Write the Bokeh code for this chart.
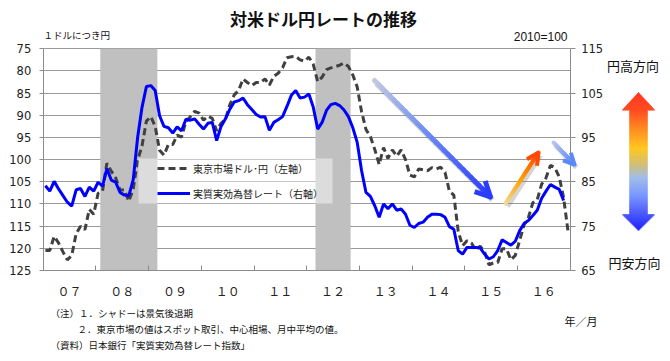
import numpy as np
from bokeh.plotting import figure
from bokeh.models import (Range1d, LinearAxis, FixedTicker, Legend, LegendItem,
                          Arrow, OpenHead)
from bokeh.embed import file_html
from bokeh.resources import INLINE
from bokeh.core.properties import value

# ---------------- data ----------------
year_labels = ["０７", "０８", "０９", "１０", "１１", "１２", "１３", "１４", "１５", "１６"]

# 東京市場ドル・円 (monthly average, Jan 2007 - Dec 2016), left axis
usd_jpy = [
    120.5, 120.5, 117.3, 118.8, 120.8, 122.6, 121.6, 116.7, 115.0, 115.8, 111.2, 112.3,
    107.6, 107.1, 100.8, 102.6, 104.1, 106.9, 106.8, 109.4, 106.6, 100.1, 96.9, 91.3,
    90.3, 92.5, 97.9, 99.0, 96.6, 96.6, 94.5, 94.9, 91.4, 90.3, 89.1, 89.5,
    91.1, 90.2, 90.7, 93.5, 91.8, 90.9, 87.6, 85.4, 84.4, 81.8, 82.6, 83.3,
    82.6, 82.6, 81.8, 83.2, 81.2, 80.5, 79.3, 77.0, 76.8, 76.7, 77.5, 77.8,
    76.9, 78.5, 82.4, 81.4, 79.7, 79.3, 79.0, 78.7, 78.2, 79.0, 80.9, 83.6,
    89.2, 93.2, 94.8, 97.7, 101.1, 97.3, 99.7, 97.8, 99.2, 97.8, 100.0, 103.5,
    103.9, 102.1, 102.3, 102.5, 101.8, 102.1, 101.7, 102.9, 107.1, 108.0, 116.2, 119.4,
    118.3, 118.8, 120.4, 119.5, 120.8, 123.7, 123.3, 123.2, 120.1, 120.1, 122.6, 121.6,
    118.2, 114.7, 113.0, 109.7, 109.0, 105.5, 104.1, 101.3, 101.8, 103.9, 108.6, 116.1,
]

# 実質実効為替レート (2010=100, Jan 2007 - Nov 2016), right axis
reer = [
    84.1, 82.9, 85.1, 83.4, 81.9, 80.4, 79.5, 83.2, 83.5, 81.7, 83.8, 82.9,
    84.9, 84.0, 88.0, 85.4, 84.9, 82.6, 82.0, 81.9, 85.5, 95.0, 101.8, 106.5,
    106.7, 105.6, 99.9, 97.5, 97.2, 96.0, 97.4, 96.5, 99.1, 98.9, 99.2, 98.0,
    96.9, 98.2, 98.4, 94.3, 97.5, 99.2, 101.4, 103.0, 103.3, 103.9, 102.4, 101.3,
    100.2, 99.6, 99.7, 96.6, 98.4, 99.0, 99.7, 102.0, 104.5, 105.6, 103.9, 104.1,
    104.8, 101.8, 96.9, 98.4, 101.1, 102.4, 102.7, 102.2, 101.2, 99.7, 97.2, 93.9,
    87.5, 82.6, 81.7, 79.6, 77.0, 80.0, 78.9, 80.0, 78.6, 78.9, 77.7, 75.2,
    74.7, 75.6, 75.9, 77.0, 77.7, 77.7, 77.6, 77.0, 74.9, 74.3, 69.5, 68.7,
    70.2, 70.2, 70.2, 70.1, 68.7, 67.6, 68.1, 69.5, 71.9, 71.3, 70.7, 71.6,
    74.0, 75.6, 76.3, 77.4, 78.6, 81.3, 82.9, 84.4, 83.8, 83.3, 80.8,
]

# 景気後退期 (month index: start, end)
recessions = [(13, 26), (62, 70)]

left_ticks = [75, 80, 85, 90, 95, 100, 105, 110, 115, 120, 125]
right_ticks = [65, 75, 85, 95, 105, 115]

series_names = ["東京市場ドル･円（左軸）", "実質実効為替レート（右軸）"]
title_text = "対米ドル円レートの推移"
unit_left = "１ドルにつき円"
unit_right = "2010=100"
unit_x = "年／月"
dir_up = "円高方向"
dir_down = "円安方向"
notes = ["（注）１．シャドーは景気後退期",
         "２．東京市場の値はスポット取引、中心相場、月中平均の値。",
         "（資料）日本銀行「実質実効為替レート指数」"]

JP = "Noto Sans CJK JP"
NUM = "DejaVu Sans"

# ---------------- layout geometry (pixels) ----------------
W, H = 670, 361
PL, PR, PT, PB = 42.7, 569.7, 48.3, 270.0      # plot area box
n_months = len(year_labels) * 12
lo, hi = min(left_ticks), max(left_ticks)
rlo, rhi = min(right_ticks), max(right_ticks)
ppm = (PR - PL) / n_months                      # px per month
ppu = (PB - PT) / (hi - lo)                     # px per left-axis unit

x_start = 0 - PL / ppm
x_end = n_months + (W - PR) / ppm
y_bottom = hi + (H - PB) / ppu
y_top = lo - PT / ppu
flip = lo + rhi                                 # right value = flip - left value

p = figure(width=W, height=H, output_backend="svg", toolbar_location=None,
           x_range=Range1d(x_start, x_end), y_range=Range1d(y_bottom, y_top),
           min_border=0, min_border_left=0, min_border_right=0,
           min_border_top=0, min_border_bottom=0)
p.outline_line_color = None
p.background_fill_color = "white"
p.border_fill_color = "white"
p.extra_y_ranges = {"right": Range1d(flip - y_bottom, flip - y_top),
                    "px": Range1d(H, 0)}
p.extra_x_ranges = {"px": Range1d(0, W)}

# grid
p.xgrid.visible = False
p.ygrid.ticker = FixedTicker(ticks=left_ticks)
p.ygrid.grid_line_color = "#9a9a9a"
p.ygrid.grid_line_width = 1
p.ygrid.bounds = (lo, hi)
p.ygrid.cross_bounds = (0, n_months)

# left axis
ya = p.yaxis[0]
ya.ticker = FixedTicker(ticks=left_ticks)
ya.fixed_location = 0
ya.bounds = (lo, hi)
ya.axis_line_color = "#8c8c8c"
ya.major_tick_line_color = "#8c8c8c"
ya.major_tick_out = 4
ya.major_tick_in = 0
ya.minor_tick_line_color = None
ya.major_label_standoff = 8
ya.major_label_text_font = NUM
ya.major_label_text_font_size = "11.5px"
ya.major_label_text_color = "#222222"

# right axis
ra = LinearAxis(y_range_name="right", ticker=FixedTicker(ticks=right_ticks),
                fixed_location=n_months, bounds=(rlo, rhi))
ra.axis_line_color = "#8c8c8c"
ra.major_tick_line_color = "#8c8c8c"
ra.major_tick_out = 5
ra.major_tick_in = 0
ra.minor_tick_line_color = None
ra.major_label_standoff = 6
ra.major_label_text_font = NUM
ra.major_label_text_font_size = "11.5px"
ra.major_label_text_color = "#222222"
p.add_layout(ra, "right")

# bottom axis: year labels at mid-year, ticks at year boundaries
xa = p.xaxis[0]
mid_year = [12 * k + 6 for k in range(len(year_labels))]
year_bounds = [12 * k for k in range(len(year_labels) + 1)]
xa.ticker = FixedTicker(ticks=mid_year, minor_ticks=year_bounds)
xa.fixed_location = hi
xa.bounds = (0, n_months)
xa.major_label_overrides = {m: lab for m, lab in zip(mid_year, year_labels)}
xa.axis_line_color = "#8c8c8c"
xa.major_tick_line_color = None
xa.major_tick_in = 0
xa.major_tick_out = 0
xa.minor_tick_line_color = "#8c8c8c"
xa.minor_tick_in = 5
xa.minor_tick_out = 0
xa.major_label_standoff = 11
xa.major_label_text_font = JP
xa.major_label_text_font_size = "12px"
xa.major_label_text_color = "#222222"

# recession shading
p.quad(left=[s for s, e in recessions], right=[e for s, e in recessions],
       bottom=hi, top=lo, fill_color="#c0c0c0", line_color=None)

# series
x_usd = np.arange(len(usd_jpy)) + 0.5
x_reer = np.arange(len(reer)) + 0.5
r_usd = p.line(x_usd, usd_jpy, line_color="#404040", line_width=3, line_dash="7 4")
r_reer = p.line(x_reer, reer, line_color="#0000ff", line_width=3, y_range_name="right")


# ---------------- decorative gradient arrows (pixel coordinates) ----------------
def hex2rgb(h):
    return tuple(int(h[i:i + 2], 16) for i in (1, 3, 5))


def grad(stops, t):
    for (t0, c0), (t1, c1) in zip(stops[:-1], stops[1:]):
        if t <= t1:
            f = 0 if t1 == t0 else max(0.0, min(1.0, (t - t0) / (t1 - t0)))
            a, b = hex2rgb(c0), hex2rgb(c1)
            return "#%02x%02x%02x" % tuple(int(round(a[i] + (b[i] - a[i]) * f)) for i in range(3))
    return stops[-1][1]


arrows = [
    dict(start=(374, 80), end=(490, 196.5), width=5, head=15,
         stops=[(0, "#c4cbe0"), (0.45, "#6e8ef2"), (1, "#2a3cff")]),
    dict(start=(505, 203), end=(538, 152), width=4, head=12,
         stops=[(0, "#f2dc9c"), (0.5, "#ffa000"), (1, "#ff4a00")]),
    dict(start=(553, 142), end=(574, 164), width=4, head=11,
         stops=[(0, "#bcc8ec"), (1, "#5a88ff")]),
]
NSEG = 30
for a in arrows:
    (xs, ys), (xe, ye) = a["start"], a["end"]
    t = np.linspace(0, 1, NSEG + 1)
    px = xs + (xe - xs) * t
    py = ys + (ye - ys) * t
    p.segment(x0=[xs + 2], y0=[ys + 3], x1=[xe + 2], y1=[ye + 3],
              line_color="#707070", line_alpha=0.3, line_width=a["width"] + 1,
              x_range_name="px", y_range_name="px")
    cols = [grad(a["stops"], (t[i] + t[i + 1]) / 2) for i in range(NSEG)]
    p.segment(x0=px[:-1], y0=py[:-1], x1=px[1:], y1=py[1:], line_color=cols,
              line_width=a["width"], line_cap="round", x_range_name="px", y_range_name="px")
    p.add_layout(Arrow(end=OpenHead(size=a["head"], line_width=a["width"],
                                    line_color=a["stops"][-1][1]),
                       x_start=xs + (xe - xs) * 0.9, y_start=ys + (ye - ys) * 0.9,
                       x_end=xe, y_end=ye, line_alpha=0,
                       x_range_name="px", y_range_name="px"))

# big direction arrow on the right
cx, tip_top, head_top_base, head_bot_base, tip_bot = 638, 91.7, 110, 213.3, 230
shaft_hw, head_hw = 9.2, 17
side_stops = [(92, "#ff1a00"), (110, "#ff3300"), (130, "#ff8000"), (148, "#ffc000"),
              (165, "#c8b46a"), (177, "#94b4e4"), (195, "#6688ff"), (230, "#0000ff")]
lefts, rights, tops, bots, cols = [], [], [], [], []
y = tip_top
while y < tip_bot:
    yc = y + 0.5
    if yc < head_top_base:
        hw = head_hw * (yc - tip_top) / (head_top_base - tip_top)
    elif yc > head_bot_base:
        hw = head_hw * (tip_bot - yc) / (tip_bot - head_bot_base)
    else:
        hw = shaft_hw
    lefts.append(cx - hw); rights.append(cx + hw)
    tops.append(y); bots.append(min(y + 1.3, tip_bot))
    cols.append(grad(side_stops, yc))
    y += 1.0
p.quad(left=lefts, right=rights, top=tops, bottom=bots, fill_color=cols, line_color=None,
       x_range_name="px", y_range_name="px")

# legend background (semi-transparent white)
p.quad(left=[138], right=[332], top=[158], bottom=[203], fill_color="white",
       fill_alpha=0.45, line_color=None, x_range_name="px", y_range_name="px")

legend = Legend(items=[LegendItem(label=series_names[0], renderers=[r_usd]),
                       LegendItem(label=series_names[1], renderers=[r_reer])],
                location=(155, H - 205), padding=2, spacing=5, margin=0,
                glyph_width=33, glyph_height=20, label_height=20, label_standoff=3,
                label_text_font=JP, label_text_font_size="10px", label_text_color="#222222",
                background_fill_alpha=0, border_line_alpha=0)
p.add_layout(legend, "center")


# ---------------- texts (pixel coordinates) ----------------
def add_text(x, y, text, size, align="left", font=JP, bold=False):
    p.text(x=[x], y=[y], text=[text], text_font=value(font), text_font_size=value(size),
           text_align=align, text_baseline="middle", text_color="#111111",
           text_font_style="bold" if bold else "normal",
           x_range_name="px", y_range_name="px")


add_text(323, 18, title_text, "17px", align="center", bold=True)
add_text(43, 34, unit_left, "9.5px")
add_text(567, 36, unit_right, "12px", align="right", font="Liberation Sans")
add_text(632.5, 65, dir_up, "13px", align="center")
add_text(634, 262, dir_down, "13px", align="center")
add_text(50, 312, notes[0], "9.5px")
add_text(77, 328, notes[1], "9.5px")
add_text(50, 344, notes[2], "9.5px")
add_text(564, 320, unit_x, "11px")

open("out.html", "w").write(file_html(p, INLINE))
